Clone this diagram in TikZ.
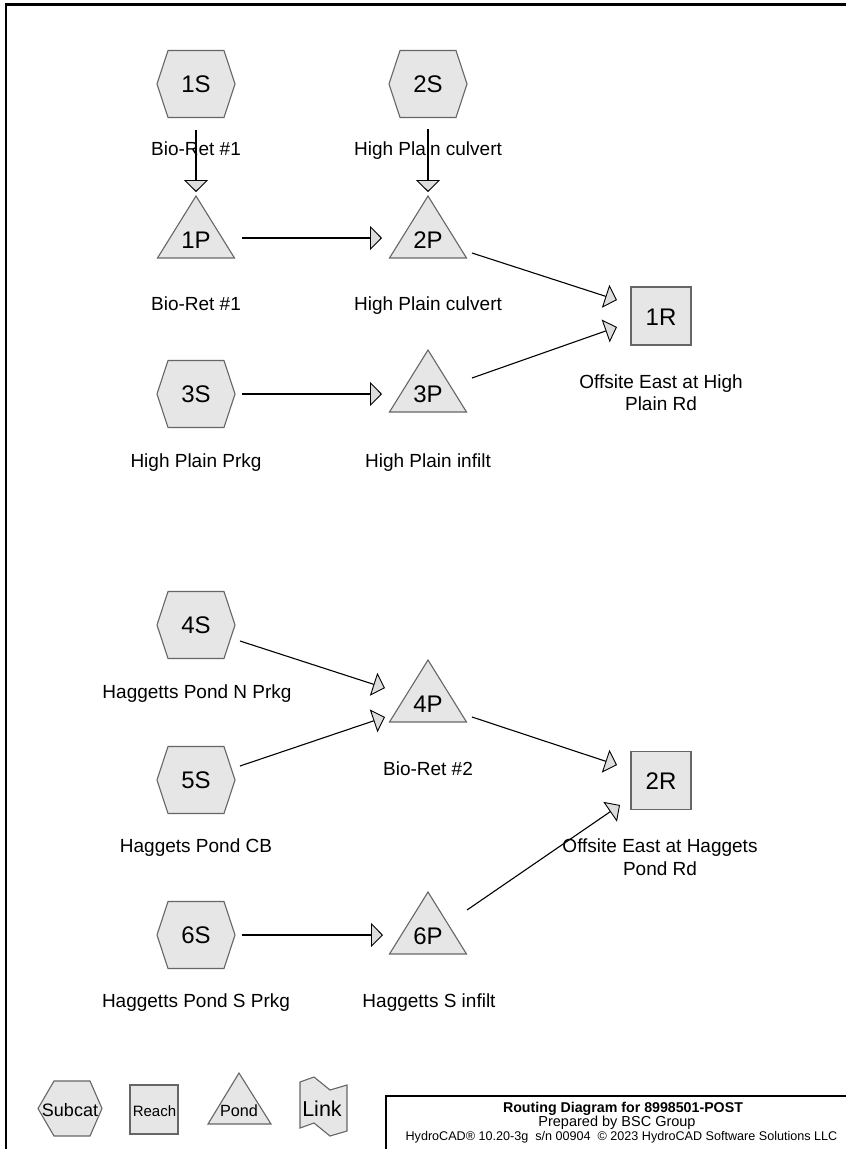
\documentclass[tikz,border=0pt]{standalone}
\usepackage{fontspec}
\setmainfont{Liberation Sans}
\usetikzlibrary{arrows.meta,calc}
\definecolor{shfill}{HTML}{E6E6E6}
\definecolor{shline}{HTML}{666666}
\definecolor{ahfill}{HTML}{DDDDDD}
\tikzset{
  shapeline/.style={draw=shline, fill=shfill, line width=1.1pt, line join=miter},
  flow/.style={draw=black, line width=1.1pt,
    -{Triangle[length=12pt,width=24pt,fill=ahfill,line width=0.9pt]}},
  idtext/.style={font=\fontsize{24}{24}\selectfont, text height=17.2pt, text depth=0pt, inner sep=0pt},
  lbl/.style={font=\fontsize{19}{22}\selectfont, anchor=base, inner sep=0pt},
  ttl/.style={font=\fontsize{12.6}{14}\selectfont, anchor=base, inner sep=0pt},
  frame/.style={draw=black, line width=2.6pt},
  pics/hexa/.style={code={\path[shapeline] (-39,0)--(-28,-33.5)--(28,-33.5)--(39,0)--(28,33.5)--(-28,33.5)--cycle;}},
  pics/tri/.style={code={\path[shapeline] (0,-44)--(38.5,18)--(-38.5,18)--cycle;}},
  pics/sq/.style={code={\path[shapeline] (-30,-29) rectangle (30,29);}},
}
\begin{document}
\begin{tikzpicture}[x=1pt,y=-1pt]
\useasboundingbox (0,0) rectangle (846,1149);
\clip (0,0) rectangle (846,1149);
\fill[white] (0,0) rectangle (846,1149);
\draw[frame] (6,4.7) rectangle (870,1170);

% shapes
\pic at (196,84) {hexa};
\pic at (428,84) {hexa};
\pic at (196,394) {hexa};
\pic at (196,625) {hexa};
\pic at (196,780) {hexa};
\pic at (196,935) {hexa};
\pic at (196,240) {tri};
\pic at (428,240) {tri};
\pic at (428,394) {tri};
\pic at (428,704) {tri};
\pic at (428,936) {tri};
\pic at (661,316) {sq};
\pic at (661,780.5) {sq};

% id nodes
\node[idtext] (n1S) at (196,84) {1S};
\node[idtext] (n2S) at (428,84) {2S};
\node[idtext] (n3S) at (196,394) {3S};
\node[idtext] (n4S) at (196,625) {4S};
\node[idtext] (n5S) at (196,780) {5S};
\node[idtext] (n6S) at (196,935) {6S};
\node[idtext] (n1P) at (196,240) {1P};
\node[idtext] (n2P) at (428,240) {2P};
\node[idtext] (n3P) at (428,394) {3P};
\node[idtext] (n4P) at (428,704) {4P};
\node[idtext] (n6P) at (428,936) {6P};
\node[idtext] (n1R) at (661,316.5) {1R};
\node[idtext] (n2R) at (661,781) {2R};

% connectors
\draw[flow] ($(n1S.center)+(0,46)$) -- ($(n1P.center)+(0,-48)$);
\draw[flow] ($(n2S.center)+(0,45)$) -- ($(n2P.center)+(0,-48)$);
\draw[flow] ($(n1P.center)+(46,-2)$) -- ($(n2P.center)+(-46,-2)$);
\draw[flow] ($(n2P.center)+(44,13)$) -- ($(n1R.center)+(-44,-16.5)$);
\draw[flow] ($(n3P.center)+(44,-16)$) -- ($(n1R.center)+(-44,10.5)$);
\draw[flow] ($(n3S.center)+(46,0)$) -- ($(n3P.center)+(-46,0)$);
\draw[flow] ($(n4S.center)+(44,16)$) -- ($(n4P.center)+(-43,-16)$);
\draw[flow] ($(n5S.center)+(44,-14)$) -- ($(n4P.center)+(-43,13)$);
\draw[flow] ($(n4P.center)+(44,13)$) -- ($(n2R.center)+(-44,-16)$);
\draw[flow] ($(n6S.center)+(46,0)$) -- ($(n6P.center)+(-45,-1)$);
\draw[flow] ($(n6P.center)+(39,-26)$) -- ($(n2R.center)+(-41,24)$);

% labels
\node[lbl] (l1S) at (196,155) {Bio-Ret \#1};
\node[lbl] (l2S) at (428,155) {High Plain culvert};
\node[lbl] (l1P) at (196,310) {Bio-Ret \#1};
\node[lbl] (l2P) at (428,310) {High Plain culvert};
\node[lbl] (l3S) at (196,467) {High Plain Prkg};
\node[lbl] (l3P) at (428,467) {High Plain infilt};
\node[lbl] (l1Ra) at (661,388) {Offsite East at High};
\node[lbl] (l1Rb) at (661,410) {Plain Rd};
\node[lbl] (l4S) at (197,698) {Haggetts Pond N Prkg};
\node[lbl] (l4P) at (428,775) {Bio-Ret \#2};
\node[lbl] (l5S) at (196,852) {Haggets Pond CB};
\node[lbl] (l2Ra) at (660,852) {Offsite East at Haggets};
\node[lbl] (l2Rb) at (660,875) {Pond Rd};
\node[lbl] (l6S) at (196,1007) {Haggetts Pond S Prkg};
\node[lbl] (l6P) at (429,1007) {Haggetts S infilt};

% legend
\path[shapeline] (38,1108.5)--(54,1081)--(90,1081)--(102,1108.5)--(90,1136)--(54,1136)--cycle;
\node[anchor=base, inner sep=0pt, font=\fontsize{18}{18}\selectfont] (lgS) at (70,1116) {Subcat};
\path[shapeline] (130,1085) rectangle (178,1134);
\node[anchor=base, inner sep=0pt, font=\fontsize{15}{15}\selectfont] (lgR) at (154.5,1116) {Reach};
\path[shapeline] (239,1073)--(271,1124)--(208,1124)--cycle;
\node[anchor=base, inner sep=0pt, font=\fontsize{16.2}{16}\selectfont] (lgP) at (239,1116) {Pond};
\path[shapeline] (300,1082)--(314,1077)--(330,1090)--(347,1085)--(347,1131)--(330,1136)--(314,1123)--(300,1128)--cycle;
\node[anchor=base, inner sep=0pt, font=\fontsize{21.5}{21}\selectfont] (lgL) at (322,1116) {Link};

% title box
\draw[frame, fill=white] (386,1096) rectangle (870,1170);
\node[ttl, font=\fontsize{14.2}{14}\selectfont\bfseries] (t1) at (623,1112) {Routing Diagram for 8998501-POST};
\node[ttl, font=\fontsize{14.5}{14}\selectfont] (t2) at (617,1126) {Prepared by BSC Group};
\node[ttl] (t3) at (621.5,1140) {HydroCAD® 10.20-3g\ \ s/n 00904\ \ © 2023 HydroCAD Software Solutions LLC};
\end{tikzpicture}
\end{document}
